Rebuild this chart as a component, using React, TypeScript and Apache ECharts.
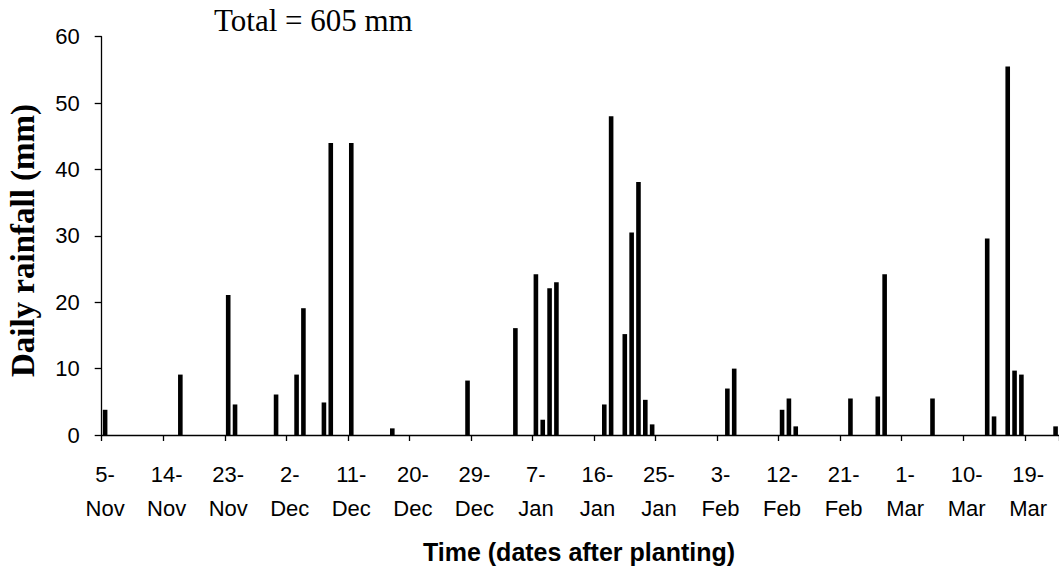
import React, { useEffect, useRef } from "react";
import * as echarts from "echarts";

// Season runs from planting on 5 November for 140 days (through 23 March, leap February).
const START_YEAR = 2007;
const START_MONTH = 10; // November (0-based)
const START_DAY = 5;
const DAY_COUNT = 140;
const MONTH_NAMES = ["Jan", "Feb", "Mar", "Apr", "May", "Jun", "Jul", "Aug", "Sep", "Oct", "Nov", "Dec"];

// Rain days and measured daily rainfall (mm)
const rainDates = [
  "5-Nov", "16-Nov", "23-Nov", "24-Nov", "30-Nov",
  "3-Dec", "4-Dec", "7-Dec", "8-Dec", "11-Dec", "17-Dec", "28-Dec",
  "4-Jan", "7-Jan", "8-Jan", "9-Jan", "10-Jan", "17-Jan", "18-Jan",
  "20-Jan", "21-Jan", "22-Jan", "23-Jan", "24-Jan",
  "4-Feb", "5-Feb", "12-Feb", "13-Feb", "14-Feb", "22-Feb", "26-Feb", "27-Feb",
  "5-Mar", "13-Mar", "14-Mar", "16-Mar", "17-Mar", "18-Mar", "23-Mar",
];
const rainAmounts = [
  3.8, 9.1, 21.1, 4.6, 6.1,
  9.1, 19.1, 4.9, 44.0, 44.0, 1.0, 8.2,
  16.1, 24.2, 2.3, 22.1, 23.0, 4.6, 48.0,
  15.2, 30.5, 38.1, 5.3, 1.6,
  7.0, 10.0, 3.8, 5.5, 1.3, 5.5, 5.8, 24.2,
  5.5, 29.6, 2.8, 55.5, 9.7, 9.1, 1.3,
];

const TOTAL_LABEL = "Total = 605 mm";
const Y_TITLE = "Daily rainfall (mm)";
const X_TITLE = "Time (dates after planting)";

function buildDays(): string[] {
  const days: string[] = [];
  for (let i = 0; i < DAY_COUNT; i++) {
    const d = new Date(START_YEAR, START_MONTH, START_DAY + i);
    days.push(`${d.getDate()}-${MONTH_NAMES[d.getMonth()]}`);
  }
  return days;
}

export default function App() {
  const ref = useRef<HTMLDivElement>(null);

  useEffect(() => {
    if (!ref.current) return;
    const chart = echarts.init(ref.current, undefined, { renderer: "svg" });

    const days = buildDays();
    const rainfall = days.map((d) => {
      const k = rainDates.indexOf(d);
      return k >= 0 ? rainAmounts[k] : 0;
    });

    const sans = "'Liberation Sans', Arial, sans-serif";
    const serif = "'Liberation Serif', 'Times New Roman', serif";

    chart.setOption({
      animation: false,
      backgroundColor: "#fff",
      grid: { left: 101.7, top: 36.7, width: 958.6, height: 398.3, containLabel: false },
      xAxis: {
        type: "category",
        data: days,
        boundaryGap: true,
        axisLine: { show: true, lineStyle: { color: "#000", width: 1.3 } },
        axisTick: { show: true, interval: 8, length: 6, lineStyle: { color: "#000", width: 1.3 } },
        axisLabel: {
          interval: 8,
          formatter: (v: string) => v.replace("-", "-\n"),
          color: "#000",
          fontFamily: sans,
          fontSize: 22,
          lineHeight: 34,
          margin: 22,
        },
        splitLine: { show: false },
      },
      yAxis: {
        type: "value",
        min: 0,
        max: 60,
        interval: 10,
        axisLine: { show: true, lineStyle: { color: "#000", width: 1.3 } },
        axisTick: { show: true, length: 7, lineStyle: { color: "#000", width: 1.3 } },
        axisLabel: { color: "#000", fontFamily: sans, fontSize: 22, margin: 22 },
        splitLine: { show: false },
      },
      series: [
        {
          type: "bar",
          data: rainfall,
          barWidth: 4.6,
          itemStyle: { color: "#000" },
        },
      ],
      graphic: [
        {
          type: "text",
          left: 214,
          top: 5,
          style: {
            text: TOTAL_LABEL,
            font: `31px ${serif}`,
            fill: "#000",
          },
        },
        {
          type: "text",
          x: 23,
          y: 240.5,
          rotation: Math.PI / 2,
          style: {
            text: Y_TITLE,
            font: `bold 33px ${serif}`,
            fill: "#000",
            align: "center",
            verticalAlign: "middle",
          },
        },
        {
          type: "text",
          x: 579,
          y: 552,
          style: {
            text: X_TITLE,
            font: `bold 25px ${sans}`,
            fill: "#000",
            align: "center",
            verticalAlign: "middle",
          },
        },
      ],
    });

    return () => chart.dispose();
  }, []);

  return (
    <div
      ref={ref}
      style={{ position: "fixed", left: 0, top: 0, width: 1059, height: 569, background: "#fff" }}
    />
  );
}
